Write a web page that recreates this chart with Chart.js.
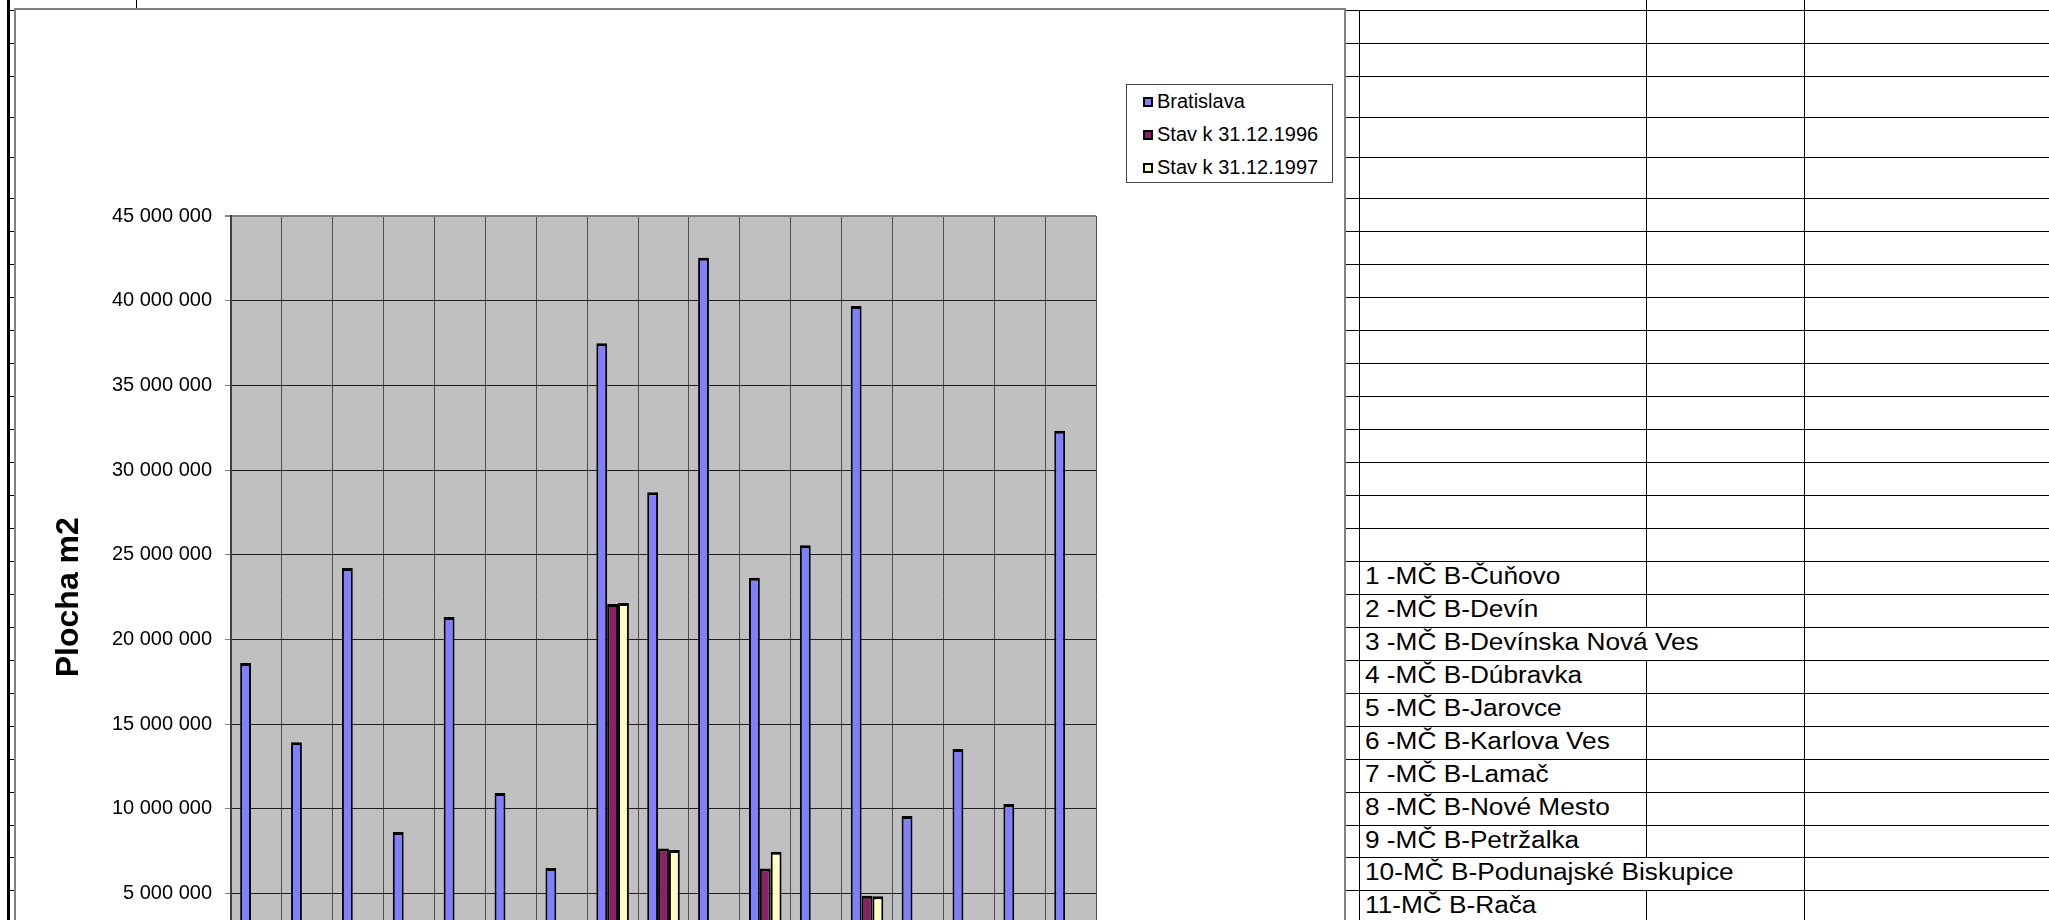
<!DOCTYPE html>
<html>
<head>
<meta charset="utf-8">
<title>Plocha m2</title>
<script src="https://cdn.jsdelivr.net/npm/chart.js@4.4.1/dist/chart.umd.min.js"></script>
<style>
  html, body { margin: 0; padding: 0; background: #fff; }
  body { width: 2049px; height: 920px; overflow: hidden; position: relative; font-family: "Liberation Sans", Arial, sans-serif; }
  .hl { position: absolute; height: 1px; background: #000; }
  .vl { position: absolute; width: 1px; background: #000; }
  #chart-box { position: absolute; left: 14px; top: 8px; width: 1328px; height: 1040px; border: 2px solid #808080; background: #fff; }
  #chart-box canvas { position: absolute; left: 0; top: 0; }
  #legend { position: absolute; left: 1126px; top: 84px; width: 207px; height: 99px; box-sizing: border-box; border: 1px solid #444; background: #fff; }
  #legend .item { height: 33px; display: flex; align-items: center; padding-left: 16px; font-size: 20px; color: #000; white-space: nowrap; }
  #legend .box { width: 10px; height: 10px; box-sizing: border-box; border: 2px solid #000; margin-right: 4px; }
  .cell-text { position: absolute; font-size: 23px; line-height: 33px; white-space: nowrap; transform: scaleX(1.14); transform-origin: 0 0; color: #000; }
</style>
</head>
<body>
<div id="sheet"></div>
<div id="chart-box"><canvas id="chart" width="1328" height="1030"></canvas></div>
<div id="legend"></div>
<script>
// categories (mestské časti)
const categories = [
  "1 -MČ B-Čuňovo", "2 -MČ B-Devín", "3 -MČ B-Devínska Nová Ves", "4 -MČ B-Dúbravka",
  "5 -MČ B-Jarovce", "6 -MČ B-Karlova Ves", "7 -MČ B-Lamač", "8 -MČ B-Nové Mesto",
  "9 -MČ B-Petržalka", "10-MČ B-Podunajské Biskupice", "11-MČ B-Rača", "12-MČ B-Rusovce",
  "13-MČ B-Ružinov", "14-MČ B-Staré Mesto", "15-MČ B-Vajnory", "16-MČ B-Vrakuňa",
  "17-MČ B-Záhorská Bystrica"
];
const seriesNames = ["Bratislava", "Stav k 31.12.1996", "Stav k 31.12.1997"];
const seriesColors = ["#8080FF", "#882266", "#FFFFC0"];

// values in m2
const bratislava = [18620000, 13940000, 24230000, 8640000, 21330000, 10940000, 6520000, 37490000,
  28700000, 42530000, 23650000, 25570000, 39690000, 9590000, 13540000, 10300000, 32330000];
const stav1996 = [null, null, null, null, null, null, null, 22100000,
  7660000, null, 6480000, null, 4880000, null, null, null, null];
const stav1997 = [null, null, null, null, null, null, null, 22160000,
  7580000, null, 7480000, null, 4850000, null, null, null, null];

// value axis
const yMin = 0, yMax = 45000000, yStep = 5000000;
const yTitle = "Plocha m2";

// spreadsheet row borders behind the chart
const rowLines = [10, 43, 76, 117, 157, 198, 231, 264, 297, 330, 363, 396, 429, 462, 495, 528,
  561, 594, 627, 660, 693, 726, 759, 792, 825, 857, 890, 923];
const firstLabelRow = 16;

// draw the sheet grid
const sheet = document.getElementById("sheet");
function line(cls, x, y, w, h) {
  const d = document.createElement("div");
  d.className = cls;
  d.style.left = x + "px"; d.style.top = y + "px";
  if (w) d.style.width = w + "px";
  if (h) d.style.height = h + "px";
  sheet.appendChild(d);
  return d;
}
line("vl", 7, 0, 3, 920);
line("vl", 136, 0, 1, 9);
rowLines.forEach(y => {
  line("hl", 10, y, 5, 1);
  line("hl", 1346, y, 703, 1);
});
line("vl", 1359, 10, 1, 920);
line("vl", 1804, 0, 1, 930);
line("vl", 1646, 0, 1, 10);

for (let i = 0; i < rowLines.length - 1; i++) {
  const top = rowLines[i], bottom = rowLines[i + 1];
  const idx = i - firstLabelRow;
  let overflow = false;
  if (idx >= 0 && idx < categories.length) {
    const t = document.createElement("div");
    t.className = "cell-text";
    t.style.left = "1365px";
    t.style.top = (top - 1) + "px";
    t.textContent = categories[idx];
    sheet.appendChild(t);
    overflow = t.getBoundingClientRect().width > 1646 - 1366;
  }
  if (!overflow) line("vl", 1646, top, 1, bottom - top);
}

// chart
const plotBackground = {
  id: "plotBackground",
  beforeDraw(chart) {
    const {ctx, chartArea} = chart;
    ctx.save();
    ctx.fillStyle = "#C0C0C0";
    ctx.fillRect(chartArea.left, chartArea.top, chartArea.right - chartArea.left, chartArea.bottom - chartArea.top);
    ctx.restore();
  }
};

Chart.defaults.font.family = '"Liberation Sans", Arial, sans-serif';
Chart.defaults.color = "#000";

const context = document.getElementById("chart").getContext("2d");
const chart = new Chart(context, {
  type: "bar",
  data: {
    labels: categories,
    datasets: [bratislava, stav1996, stav1997].map((values, i) => ({
      label: seriesNames[i],
      data: values,
      backgroundColor: seriesColors[i],
      borderColor: "#000",
      borderWidth: {top: 3, left: 2, right: 2, bottom: 0},
      borderSkipped: false,
      categoryPercentage: 0.64,
      barPercentage: 1.0
    }))
  },
  options: {
    responsive: false,
    animation: false,
    devicePixelRatio: 1,
    layout: { padding: { top: 206, right: 248, left: 0, bottom: 10 } },
    plugins: {
      legend: { display: false },
      tooltip: { enabled: false }
    },
    scales: {
      x: {
        grid: { color: "#505050", lineWidth: 1, offset: true, drawTicks: false },
        border: { color: "#404040", width: 2 },
        ticks: { font: { size: 20 }, maxRotation: 90, minRotation: 90, autoSkip: false },
        afterFit(scale) { scale.height = 51.6; }
      },
      y: {
        min: yMin,
        max: yMax,
        ticks: {
          stepSize: yStep,
          padding: 13,
          font: { size: 20 },
          callback: v => String(v).replace(/\B(?=(\d{3})+(?!\d))/g, " ")
        },
        grid: {
          color: c => (c.tick && c.tick.value === yMax) ? "#808080" : "#1e1e1e",
          lineWidth: c => (c.tick && c.tick.value === yMax) ? 2 : 1,
          tickColor: "#808080",
          tickLength: 6
        },
        border: { color: "#404040", width: 2 },
        title: {
          display: true,
          text: yTitle,
          font: { size: 32, weight: "bold" },
          padding: { top: 34, bottom: 0 }
        },
        afterFit(scale) { scale.width = 215; }
      }
    }
  },
  plugins: [plotBackground]
});

// legend box built from the chart's datasets
const legend = document.getElementById("legend");
chart.data.datasets.forEach(ds => {
  const item = document.createElement("div");
  item.className = "item";
  const box = document.createElement("span");
  box.className = "box";
  box.style.background = ds.backgroundColor;
  item.appendChild(box);
  item.appendChild(document.createTextNode(ds.label));
  legend.appendChild(item);
});
</script>
</body>
</html>
